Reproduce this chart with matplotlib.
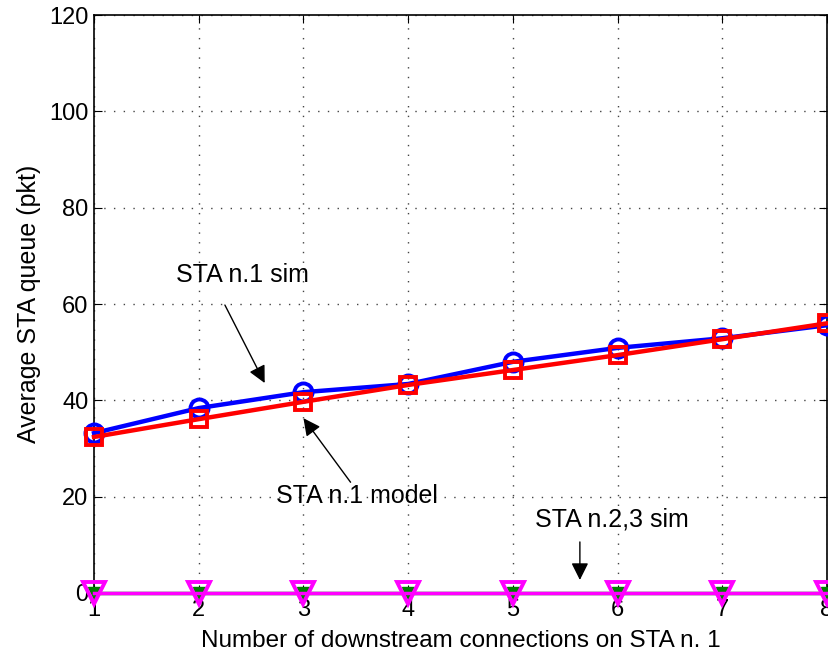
import numpy as np
import matplotlib.pyplot as plt

plt.rcParams['font.family'] = ['Liberation Sans', 'DejaVu Sans']

connections = [1, 2, 3, 4, 5, 6, 7, 8]
sta1_sim = [33.2, 38.4, 41.7, 43.4, 48.0, 50.9, 52.9, 55.6]
sta1_model = [32.4, 36.1, 39.7, 43.2, 46.3, 49.4, 52.7, 56.0]
sta2_sim = [0, 0, 0, 0, 0, 0, 0, 0]
sta3_sim = [0, 0, 0, 0, 0, 0, 0, 0]

fig = plt.figure(figsize=(8.29, 6.58), dpi=100)
ax = fig.add_axes([0.1134, 0.0988, 0.8842, 0.8782])

ax.plot(connections, sta2_sim, color='#007f00', lw=2.5, marker='v', ms=8,
        mfc='#007f00', mec='#007f00', zorder=3, clip_on=False)
ax.plot(connections, sta3_sim, color='magenta', lw=2.5, marker='v', ms=16,
        mfc='none', mec='magenta', mew=2.8, zorder=4, clip_on=False)
ax.plot(connections, sta1_sim, color='blue', lw=3.2, marker='o', ms=13,
        mfc='none', mec='blue', mew=2.8, zorder=5, clip_on=False)
ax.plot(connections, sta1_model, color='red', lw=3.2, marker='s', ms=12,
        mfc='none', mec='red', mew=2.8, zorder=6, clip_on=False)

arrow = dict(arrowstyle='-|>', color='black', lw=1, mutation_scale=26,
             shrinkA=0, shrinkB=0)
ax.annotate('', xy=(2.63, 43.6), xytext=(2.25, 59.8), arrowprops=arrow)
ax.text(2.42, 66.0, 'STA n.1 sim', fontsize=18, ha='center', va='center')
ax.annotate('', xy=(3.0, 36.3), xytext=(3.45, 23.0), arrowprops=arrow)
ax.text(3.51, 20.1, 'STA n.1 model', fontsize=18, ha='center', va='center')
ax.annotate('', xy=(5.64, 2.7), xytext=(5.64, 10.6), arrowprops=arrow)
ax.text(5.95, 15.2, 'STA n.2,3 sim', fontsize=18, ha='center', va='center')

ax.set_xlim(1, 8)
ax.set_ylim(0, 120)
ax.set_xticks(connections)
ax.set_yticks(np.arange(0, 121, 20))
ax.tick_params(direction='in', labelsize=17, pad=4, length=6,
               top=True, right=True)
ax.grid(True, linestyle=(0, (1, 6)), color='#444444', lw=1)
ax.set_xlabel('Number of downstream connections on STA n. 1', fontsize=17.5,
              labelpad=7)
ax.set_ylabel('Average STA queue (pkt)', fontsize=18, labelpad=6)
for s in ax.spines.values():
    s.set_linewidth(1.2)

fig.savefig('out.png', dpi=100)
